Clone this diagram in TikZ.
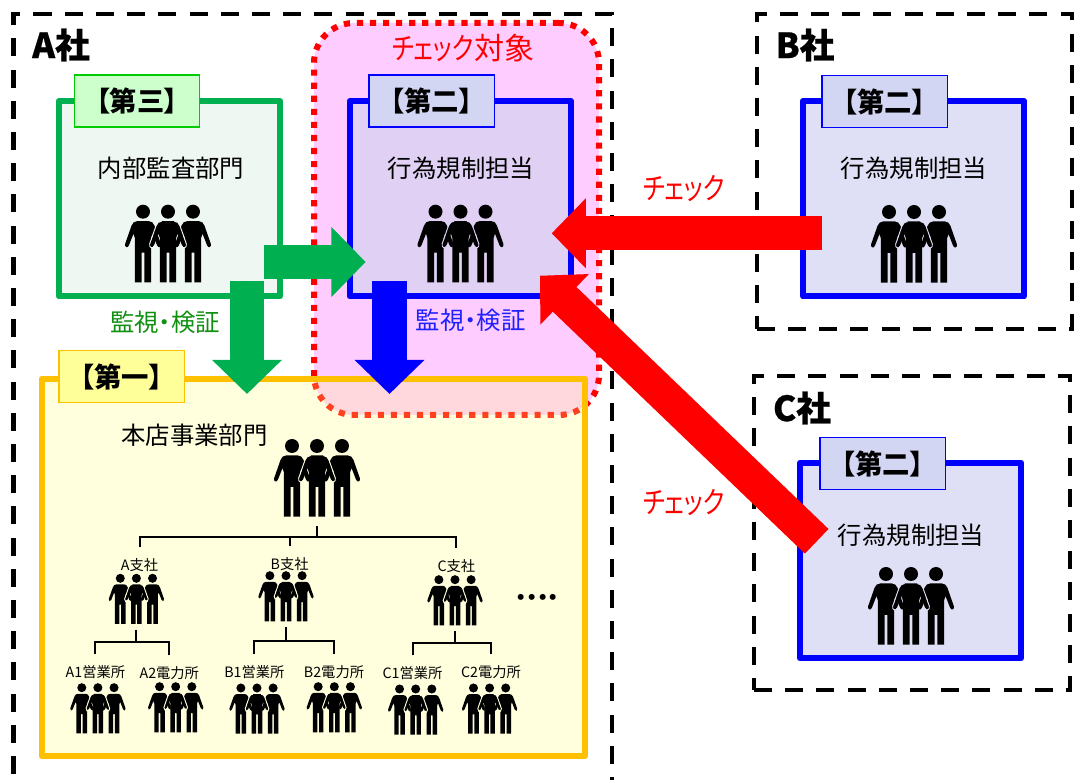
\documentclass[tikz,border=0pt]{standalone}
\usepackage{fontspec}
\setmainfont[RawFeature={+palt}]{Noto Sans CJK JP}
\usetikzlibrary{arrows.meta}
\definecolor{gdgreen}{HTML}{00B050}
\definecolor{gdorange}{HTML}{FFC000}
\definecolor{haloGreen}{HTML}{EEF7F2}
\definecolor{haloBlue}{HTML}{DFE0F5}
\definecolor{haloPurple}{HTML}{E0D0F5}
\definecolor{haloYellow}{HTML}{FFFFDE}
\definecolor{tabBlue}{HTML}{D2D6F3}
\newcommand{\kanawide}[1]{\scalebox{.8}[1]{#1}}
\tikzset{
    company/.style={draw=black, line width=3.2pt, dash pattern=on 13.5pt off 9.9pt},
    companyname/.style={font=\fontsize{26pt}{28pt}\selectfont\bfseries\addfontfeature{FakeBold=0.6}, text=black},
    unitbox/.style={rectangle, line width=4.5pt, line join=round, minimum width=166pt, minimum height=146.6pt},
    greenbox/.style={unitbox, draw=gdgreen, fill=haloGreen},
    bluebox/.style={unitbox, draw=blue, fill={rgb,255:red,209;green,210;blue,240}, fill opacity=.69},
    tabbox/.style={rectangle, line width=1pt, minimum width=94pt, minimum height=38.8pt,
        font=\fontsize{20.5pt}{23pt}\selectfont\bfseries, text=black, inner sep=0pt},
    deptname/.style={font=\fontsize{18.3pt}{20pt}\selectfont, text=black},
    checkname/.style={font=\fontsize{22.5pt}{25pt}\selectfont, text=red},
    watchname/.style={font=\fontsize{18.3pt}{20pt}\selectfont},
    branchname/.style={font=\fontsize{10.7pt}{12pt}\selectfont, text=black, minimum height=26pt, inner sep=0pt},
    treeline/.style={draw=black, line width=1.5pt},
    blockarrow/.style={line width=25.6pt, -{Triangle[length=25.6pt,width=51pt]}},
    pics/people/.style={code={
        \foreach \sidex in {-25,25,0} {
            \begin{scope}[xshift=\sidex*0.75pt]
                \fill[black] (0,0) circle (7);
                \fill[black] (0,9.5) -- (6,9.5) .. controls (8.5,9.5) and (10.5,11) .. (11.5,14)
                    -- (17.8,32) .. controls (18.8,35.5) and (15.2,37) .. (14,33.5)
                    -- (9.5,22) -- (8.2,26) -- (8.2,70.7) -- (1.3,70.7) -- (1.3,41) -- (-1.3,41)
                    -- (-1.3,70.7) -- (-8.2,70.7) -- (-8.2,26) -- (-9.5,22) -- (-14,33.5)
                    .. controls (-15.2,37) and (-18.8,35.5) .. (-17.8,32) -- (-11.5,14)
                    .. controls (-10.5,11) and (-8.5,9.5) .. (-6,9.5) -- cycle;
            \end{scope}
        }
        % outline of the front figure, on the outer side of its arms only
        \draw[#1, line width=.7pt] (6.5,9.6) .. controls (9,9.7) and (11,11) .. (12,14)
            -- (18.3,32) .. controls (19.4,36) and (15,37.8) .. (13.6,34);
        \draw[#1, line width=.7pt] (-6.5,9.6) .. controls (-9,9.7) and (-11,11) .. (-12,14)
            -- (-18.3,32) .. controls (-19.4,36) and (-15,37.8) .. (-13.6,34);
        \coordinate (-bot) at (0,80);
    }},
}

\begin{document}
\begin{tikzpicture}[x=0.75pt, y=-0.75pt]
    \useasboundingbox (0,0) rectangle (1076,780);

    % company frames
    \coordinate (frameAl) at (13.5,780);
    \coordinate (frameAr) at (612,780);
    \draw[company, dash phase=18.9pt] (frameAl) -- (13.5,14) -- (612,14) -- (frameAr);
    \node (nameA) at (61,45) [companyname] {A社};
    \node (frameB) at (914.5,171.5) [rectangle, company, minimum width=236.5pt, minimum height=236.25pt] {};
    \node (nameB) at (805,45) [companyname] {B社};
    \node (frameC) at (912,533) [rectangle, company, minimum width=237pt, minimum height=235.5pt] {};
    \node (nameC) at (802,408) [companyname] {C社};

    % checked area
    \node (target) at (456.5,219) [
        rectangle, rounded corners=30pt,
        minimum width=213.75pt, minimum height=294pt,
        draw=red, line width=4.5pt, dash pattern=on 4.6pt off 5.2pt,
        fill={rgb,255:red,255;green,204;blue,255},
    ] {};
    \node (targetname) at (463,48) [checkname] {\kanawide{チェック}対象};

    % first line
    \node (firstbox) at (313.25,567.25) [
        rectangle, line width=4.5pt, line join=round,
        minimum width=407.6pt, minimum height=283.1pt,
        draw=gdorange, fill={rgb,255:red,255;green,255;blue,123}, fill opacity=.25,
    ] {};
    \node (firsttab) at (121.5,376.5) [tabbox, draw=gdorange, fill={rgb,255:red,255;green,255;blue,153}] {【第一】};

    % third line
    \node (thirdbox) at (169.5,198.75) [greenbox] {};
    \node (thirdtab) at (137,101) [tabbox, draw={rgb,255:red,0;green,204;blue,0}, fill={rgb,255:red,204;green,255;blue,204}] {【第三】};
    \node (thirdname) at (171,168) [deptname] {内部監査部門};
    \pic (thirdstaff) at (168,211.7) {people=haloGreen};

    % second line of each company
    \node (secondA) at (460.25,198.75) [bluebox] {};
    \node (secondAtab) at (431.75,101) [tabbox, draw=blue, fill=tabBlue] {【第二】};
    \node (secondAname) at (461,168) [deptname] {行為規制担当};
    \pic (secondAstaff) at (460.5,211.7) {people=haloPurple};

    \node (secondB) at (913.5,198.75) [bluebox] {};
    \node (secondBtab) at (884.5,101.5) [tabbox, draw=blue, fill=tabBlue] {【第二】};
    \node (secondBname) at (914,168) [deptname] {行為規制担当};
    \pic (secondBstaff) at (914,212) {people=haloBlue};

    \node (secondC) at (910.5,560.5) [bluebox] {};
    \node (secondCtab) at (882.5,463.5) [tabbox, draw=blue, fill=tabBlue] {【第二】};
    \node (secondCname) at (911,535) [deptname] {行為規制担当};
    \pic (secondCstaff) at (911,574) {people=haloBlue};

    % head office tree
    \node (honten) at (194.5,435) [deptname] {本店事業部門};
    \pic (hontenstaff) at (317,446) {people=haloYellow};

    \node (branchA) at (139.6,565) [branchname] {A支社};
    \node (branchB) at (289.6,564) [branchname] {B支社};
    \node (branchC) at (456.4,566) [branchname] {C支社};
    \pic[scale=.645] (branchAstaff) at (136.4,578.3) {people=haloYellow};
    \pic[scale=.645] (branchBstaff) at (286,575.7) {people=haloYellow};
    \pic[scale=.645] (branchCstaff) at (455,579.7) {people=haloYellow};
    \node (moredots) at (537.5,599.7) [font=\fontsize{16pt}{17pt}\selectfont\bfseries] {・・・・};

    \node (officeA1) at (95.4,672) [branchname] {A1営業所};
    \node (officeA2) at (169.3,673) [branchname] {A2電力所};
    \node (officeB1) at (254.3,672) [branchname] {B1営業所};
    \node (officeB2) at (334,672) [branchname] {B2電力所};
    \node (officeC1) at (412.5,673) [branchname] {C1営業所};
    \node (officeC2) at (491,672) [branchname] {C2電力所};
    \pic[scale=.645] (officeA1staff) at (97.9,687.7) {people=haloYellow};
    \pic[scale=.645] (officeA2staff) at (175.7,686.7) {people=haloYellow};
    \pic[scale=.645] (officeB1staff) at (257,688) {people=haloYellow};
    \pic[scale=.645] (officeB2staff) at (334.3,686.7) {people=haloYellow};
    \pic[scale=.645] (officeC1staff) at (415.7,689) {people=haloYellow};
    \pic[scale=.645] (officeC2staff) at (489.6,688) {people=haloYellow};

    \coordinate (busmain) at (317,536.7);
    \draw[treeline] (hontenstaff-bot) -- (busmain);
    \draw[treeline] (branchA.north) |- (busmain);
    \draw[treeline] (branchC.north) |- (busmain);
    \draw[treeline] (branchB.north) -- (branchB.north |- busmain);

    \coordinate (busA) at (136.4,642);
    \draw[treeline] (branchAstaff-bot) -- (busA);
    \draw[treeline] (officeA1.north) |- (busA);
    \draw[treeline] (officeA2.north) |- (busA);
    \coordinate (busB) at (286,640.7);
    \draw[treeline] (branchBstaff-bot) -- (busB);
    \draw[treeline] (officeB1.north) |- (busB);
    \draw[treeline] (officeB2.north) |- (busB);
    \coordinate (busC) at (455,642.7);
    \draw[treeline] (branchCstaff-bot) -- (busC);
    \draw[treeline] (officeC1.north) |- (busC);
    \draw[treeline] (officeC2.north) |- (busC);

    % arrows
    \coordinate (greenrightS) at (264.4,262);
    \coordinate (greenrightE) at (365.6,262);
    \coordinate (greendownS) at (247,281);
    \coordinate (greendownE) at (247,394);
    \coordinate (bluedownS) at (389.5,281);
    \coordinate (bluedownE) at (389.5,394);
    \coordinate (redBS) at (822,233.3);
    \coordinate (redBE) at (551.7,233.3);
    \coordinate (redCS) at (816.7,541.3);
    \coordinate (redCE) at (540,275.7);
    \draw[blockarrow, draw=gdgreen, fill=gdgreen] (greenrightS) -- (greenrightE);
    \draw[blockarrow, draw=gdgreen, fill=gdgreen] (greendownS) -- (greendownE);
    \draw[blockarrow, draw=blue, fill=blue] (bluedownS) -- (bluedownE);
    \draw[blockarrow, draw=red, fill=red] (redBS) -- (redBE);
    \draw[blockarrow, draw=red, fill=red] (redCS) -- (redCE);

    \node (watchgreen) at (165,322.7) [watchname, text={rgb,255:red,16;green,144;blue,16}] {監視・検証};
    \node (watchblue) at (470.8,320.7) [watchname, text={rgb,255:red,32;green,32;blue,255}] {監視・検証};
    \node (checkB) at (684,189) [checkname] {\kanawide{チェック}};
    \node (checkC) at (684,503) [checkname] {\kanawide{チェック}};
\end{tikzpicture}
\end{document}
